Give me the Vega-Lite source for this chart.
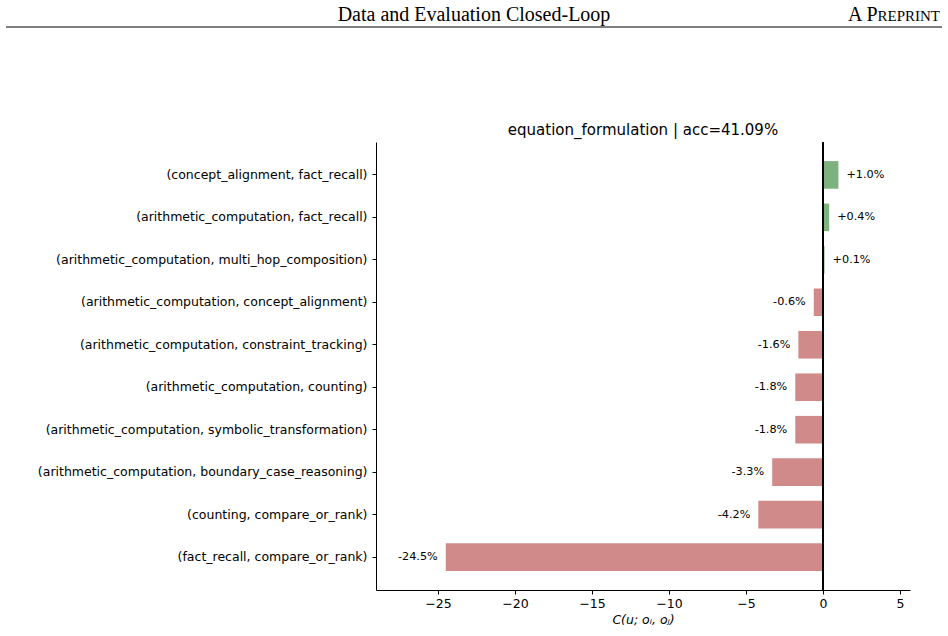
{
  "$schema": "https://vega.github.io/schema/vega-lite/v6.json",
  "background": "white",
  "padding": {"left": 5, "top": 0, "right": 6, "bottom": 5},
  "config": {
    "view": {"stroke": null},
    "font": "DejaVu Sans",
    "locale": {"number": {"decimal": ".", "thousands": ",", "grouping": [3], "currency": ["$", ""], "minus": "-"}}
  },
  "spacing": 94,
  "vconcat": [
    {
      "width": 534,
      "height": 27,
      "data": {"values": [{"part": "header"}]},
      "layer": [
        {
          "mark": {"type": "rule", "color": "black", "strokeWidth": 1},
          "encoding": {
            "x": {"datum": 0, "type": "quantitative", "scale": {"domain": [0.3953, 0.9658], "nice": false, "zero": false}, "axis": null},
            "x2": {"datum": 1},
            "y": {"datum": 0, "type": "quantitative", "scale": {"domain": [0, 1], "nice": false}, "axis": null}
          }
        },
        {
          "data": {"values": [{"text": "Data and Evaluation Closed-Loop"}]},
          "mark": {"type": "text", "font": "Liberation Serif", "fontSize": 20, "align": "center", "baseline": "alphabetic", "color": "black"},
          "encoding": {
            "text": {"field": "text"},
            "x": {"datum": 0.5, "type": "quantitative"},
            "y": {"datum": 0.22, "type": "quantitative"}
          }
        },
        {
          "data": {"values": [{"text": "REPRINT"}]},
          "mark": {"type": "text", "font": "Liberation Serif", "fontSize": 15, "align": "right", "baseline": "alphabetic", "color": "black", "dx": -2},
          "encoding": {
            "text": {"field": "text"},
            "x": {"datum": 1, "type": "quantitative"},
            "y": {"datum": 0.22, "type": "quantitative"}
          }
        },
        {
          "data": {"values": [{"text": "A P"}]},
          "mark": {"type": "text", "font": "Liberation Serif", "fontSize": 20, "align": "right", "baseline": "alphabetic", "color": "black", "dx": -64.5},
          "encoding": {
            "text": {"field": "text"},
            "x": {"datum": 1, "type": "quantitative"},
            "y": {"datum": 0.22, "type": "quantitative"}
          }
        }
      ]
    },
    {
      "width": 534,
      "height": 448,
      "title": {
        "text": "equation_formulation | acc=41.09%",
        "font": "DejaVu Sans",
        "fontSize": 15,
        "fontWeight": "normal",
        "color": "black",
        "anchor": "middle",
        "baseline": "bottom",
        "offset": -11
      },
      "data": {
        "values": [
          {"pair": "(concept_alignment, fact_recall)", "c": 1.0},
          {"pair": "(arithmetic_computation, fact_recall)", "c": 0.4},
          {"pair": "(arithmetic_computation, multi_hop_composition)", "c": 0.1},
          {"pair": "(arithmetic_computation, concept_alignment)", "c": -0.6},
          {"pair": "(arithmetic_computation, constraint_tracking)", "c": -1.6},
          {"pair": "(arithmetic_computation, counting)", "c": -1.8},
          {"pair": "(arithmetic_computation, symbolic_transformation)", "c": -1.8},
          {"pair": "(arithmetic_computation, boundary_case_reasoning)", "c": -3.3},
          {"pair": "(counting, compare_or_rank)", "c": -4.2},
          {"pair": "(fact_recall, compare_or_rank)", "c": -24.5}
        ]
      },
      "transform": [
        {"calculate": "(datum.c > 0 ? '+' : '') + format(datum.c, '.1f') + '%'", "as": "label"},
        {"calculate": "datum.c > 0 ? 'gain' : 'loss'", "as": "sign"}
      ],
      "encoding": {
        "y": {
          "field": "pair",
          "type": "nominal",
          "sort": null,
          "scale": {"paddingInner": 0.35, "paddingOuter": 0.45},
          "axis": {
            "title": null,
            "labelFont": "DejaVu Sans",
            "labelFontSize": 12.5,
            "labelColor": "black",
            "labelPadding": 5,
            "labelLimit": 0,
            "tickSize": 4,
            "tickColor": "black",
            "tickWidth": 1,
            "domainColor": "black",
            "domainWidth": 1,
            "grid": false
          }
        }
      },
      "layer": [
        {
          "mark": {"type": "bar"},
          "encoding": {
            "x": {
              "field": "c",
              "type": "quantitative",
              "scale": {"domain": [-29.03, 5.65], "nice": false, "zero": false},
              "axis": {
                "title": "C(u; oᵢ, oⱼ)",
                "titleFont": "DejaVu Sans",
                "titleFontStyle": "italic",
                "titleFontWeight": "normal",
                "titleFontSize": 12.5,
                "titleColor": "black",
                "titlePadding": 4,
                "values": [-25, -20, -15, -10, -5, 0, 5],
                "labelExpr": "replace(datum.label, '-', '\u2212')",
                "labelFont": "DejaVu Sans",
                "labelFontSize": 12.5,
                "labelColor": "black",
                "labelPadding": 3,
                "tickSize": 4,
                "tickColor": "black",
                "tickWidth": 1,
                "domainColor": "black",
                "domainWidth": 1,
                "grid": false
              }
            },
            "x2": {"datum": 0},
            "color": {
              "field": "sign",
              "type": "nominal",
              "scale": {"domain": ["gain", "loss"], "range": ["#7db17d", "#d18a8a"]},
              "legend": null
            }
          }
        },
        {
          "mark": {"type": "rule", "color": "black", "strokeWidth": 1},
          "encoding": {"x": {"datum": 0, "type": "quantitative"}, "y": null}
        },
        {
          "transform": [{"filter": "datum.c > 0"}],
          "mark": {"type": "text", "align": "left", "baseline": "middle", "dx": 8, "fontSize": 11.25, "font": "DejaVu Sans", "color": "black"},
          "encoding": {"x": {"field": "c", "type": "quantitative"}, "text": {"field": "label"}}
        },
        {
          "transform": [{"filter": "datum.c < 0"}],
          "mark": {"type": "text", "align": "right", "baseline": "middle", "dx": -8, "fontSize": 11.25, "font": "DejaVu Sans", "color": "black"},
          "encoding": {"x": {"field": "c", "type": "quantitative"}, "text": {"field": "label"}}
        }
      ]
    }
  ]
}
